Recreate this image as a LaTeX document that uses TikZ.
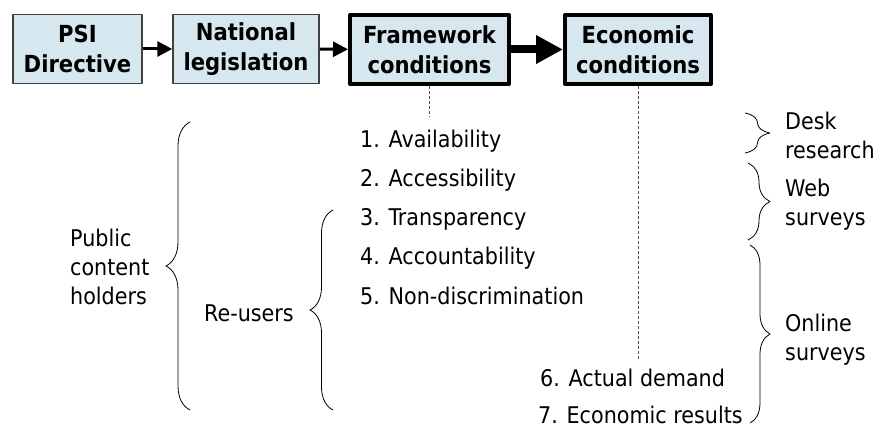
\documentclass[tikz,border=0pt]{standalone}
\usepackage{fontspec}
\setmainfont{DejaVu Sans Condensed}
\usetikzlibrary{arrows.meta,decorations.pathreplacing}
\definecolor{boxblue}{RGB}{214,231,239}
\definecolor{boxline}{RGB}{64,64,64}
\tikzset{
	box/.style={draw=boxline, fill=boxblue, line width=1.5pt, align=center, inner sep=0pt,
		minimum height=69pt, font=\bfseries\fontsize{23.5}{30}\selectfont},
	heavybox/.style={box, draw=black, line width=4pt},
	item/.style={anchor=base west, inner sep=0pt, font=\fontsize{23}{29}\selectfont},
	lbl/.style={item, anchor=west, align=left},
	thinarr/.style={line width=3pt, -{Triangle[length=15pt,width=15pt]}},
	thickarr/.style={line width=8pt, -{Triangle[length=27pt,width=27pt]}},
	dashline/.style={line width=0.8pt, draw=black!70, dash pattern=on 3pt off 2pt},
	brc/.style={decorate, decoration={brace, amplitude=#1}, line width=0.8pt},
	brc/.default=24pt
}
\begin{document}
\begin{tikzpicture}[x=1pt, y=-1pt, line join=round]
	\useasboundingbox (0,0) rectangle (877,427);
	% boxes
	\node[box, minimum width=129pt] (psi) at (77.5,49) {PSI\\Directive};
	\node[box, minimum width=146pt] (natleg) at (246,49) {National\\legislation};
	\node[heavybox, minimum width=159pt] (framework) at (429.5,49.5) {Framework\\conditions};
	\node[heavybox, minimum width=146pt] (economic) at (638,49.5) {Economic\\conditions};
	\draw[thinarr] (psi) -- (natleg);
	\draw[thinarr] (natleg) -- (framework);
	\draw[thickarr] (framework) -- (economic);
	% conditions
	\node[item] (avail) at (360,148) {1. Availability};
	\node[item] (access) at (360,187) {2. Accessibility};
	\node[item] (transp) at (360,226) {3. Transparency};
	\node[item] (account) at (360,265) {4. Accountability};
	\node[item] (nondisc) at (360,305) {5. Non-discrimination};
	\node[item] (demand) at (540,386) {6. Actual demand};
	\node[item] (results) at (538,423) {7. Economic results};
	\coordinate (fwend) at (429.5,117);
	\coordinate (ecoend) at (638,360);
	\draw[dashline] (framework.south) -- (fwend);
	\draw[dashline] (economic.south) -- (ecoend);
	% actors
	\node[lbl] (holders) at (70,267) {Public\\content\\holders};
	\node[item] (reusers) at (204,321) {Re-users};
	\draw[brc] (190,410) -- (190,122);
	\draw[brc=23pt] (333,410) -- (333,210);
	% methods
	\node[lbl] (desk) at (785,135) {Desk\\research};
	\node[lbl] (web) at (785,205) {Web\\surveys};
	\node[lbl] (online) at (785,340) {Online\\surveys};
	\draw[brc=25pt] (745,113) -- (745,153);
	\draw[brc=22pt] (748,163) -- (748,240);
	\draw[brc=20pt] (750,245) -- (750,423);
\end{tikzpicture}
\end{document}
